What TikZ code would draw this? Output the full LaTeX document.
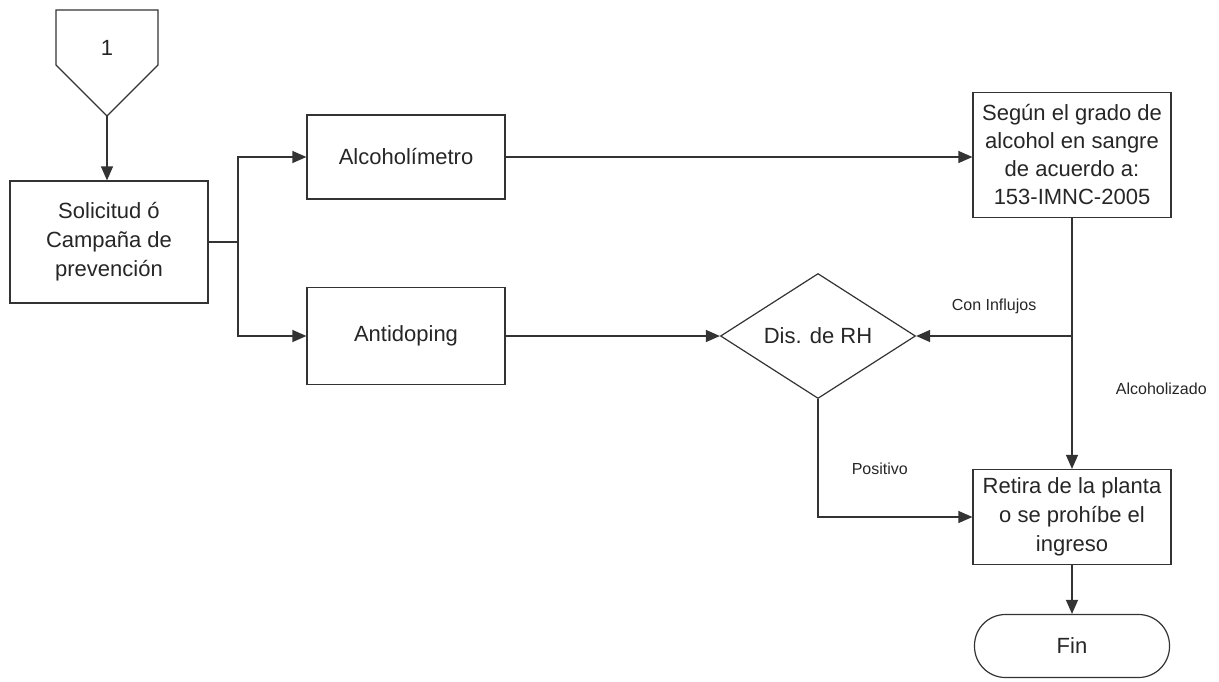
\documentclass[tikz,border=0pt]{standalone}
\usepackage{fontspec}
\setmainfont{Liberation Sans}
\usetikzlibrary{positioning,arrows.meta,shapes.geometric}
\begin{document}
\begin{tikzpicture}[x=1pt, y=-1pt, ->, >={Triangle[length=14pt,width=12pt]},
        line width=1.2pt, draw=black!80,
        every node/.style={text=black!85, font=\fontsize{22}{29}\selectfont},
        box/.style={rectangle, draw, -, align=center, minimum width=198pt, inner sep=0pt},
        decision/.style={diamond, draw, -, minimum width=195pt, minimum height=125pt, inner sep=0pt},
        terminal/.style={rectangle, rounded corners=31pt, draw, -, minimum width=195pt, minimum height=63pt},
        lbl/.style={font=\fontsize{16}{18}\selectfont}]
        \useasboundingbox (0,0) rectangle (1219,681);

          % conector de entrada
          \draw[-] (56,10) -- (158,10) -- (158,65) -- (107,116) -- (56,65) -- cycle;
          \node (one) at (107,48) {1};
          \coordinate (tip) at (107,116);

          \node[box, minimum height=122pt] (sol) at (109,242) {Solicitud ó\\Campaña de\\prevención};
          \node[box, minimum height=84pt] (alc) at (406,157) {Alcoholímetro};
          \node[box, minimum height=97pt] (anti) at (406,336) {Antidoping};
          \node[box, minimum height=125pt, font=\fontsize{22}{28}\selectfont] (seg) at (1072,155) {Según el grado de\\alcohol en sangre\\de acuerdo a:\\153-IMNC-2005};
          \node[decision] (rh) at (818,336) {Dis. de RH};
          \node[box, minimum height=95pt] (ret) at (1072,517) {Retira de la planta\\o se prohíbe el\\ingreso};
          \node[terminal] (fin) at (1072,646) {Fin};

          \coordinate (split) at (238,242);
          \coordinate (join) at (seg.south |- rh.east);

          \draw (tip) -- (tip |- sol.north);
          \draw[-] (sol.east) -- (split);
          \draw (split) |- (alc.west);
          \draw (split) |- (anti.west);
          \draw (alc.east) -- (alc.east -| seg.west);
          \draw (anti.east) -- (rh.west);
          \draw[-] (seg.south) -- (join);
          \draw (join) -- (rh.east) node[lbl, midway, above=18pt] {Con Influjos};
          \draw (join) -- (ret.north) node[lbl, pos=0.4, right=40pt] {Alcoholizado};
          \draw (rh.south) |- (ret.west) node[lbl, pos=0.7, above=38pt] {Positivo};
          \draw (ret.south) -- (fin.north);

        \end{tikzpicture}
\end{document}
